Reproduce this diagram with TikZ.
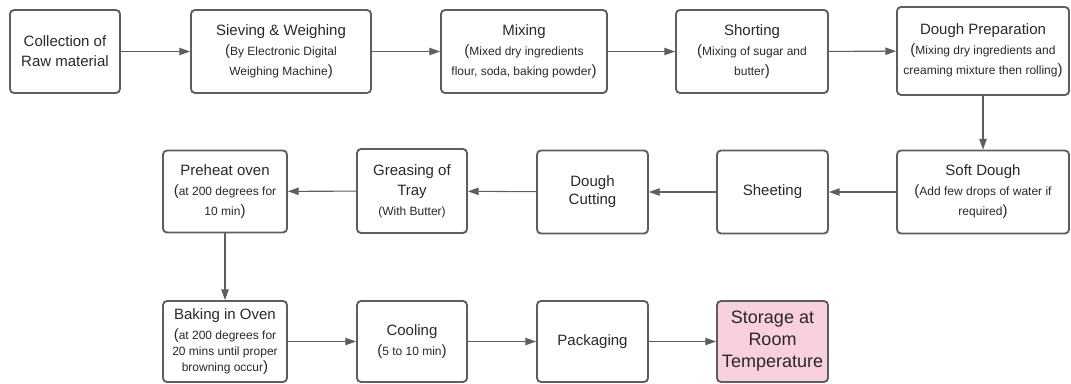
\documentclass[tikz,border=0pt]{standalone}
\usepackage{fontspec}
\setmainfont{Liberation Sans}
\usetikzlibrary{arrows.meta}
\definecolor{boxgray}{RGB}{94,94,94}
\definecolor{txtgray}{RGB}{40,40,40}
\definecolor{storepink}{RGB}{249,208,221}
\newcommand{\subtxt}[1]{{\fontsize{9}{15}\selectfont #1}}
\tikzset{
  proc/.style={draw=boxgray, line width=1.4pt, rounded corners=3pt, align=center,
    inner sep=2pt, text=txtgray, font=\fontsize{11.25}{15}\selectfont},
  flow/.style={draw=boxgray, line width=0.8pt, -{Triangle[length=8pt,width=5.5pt]}}
}
\begin{document}
\begin{tikzpicture}[x=0.75pt,y=0.75pt,yscale=-1,xscale=1]
        \useasboundingbox (0,0) rectangle (1071,383);
        %Shape: Process row 1
        \node (coll) at (65,51.5) [proc, minimum width=82.5pt, minimum height=62.25pt] {Collection of\\Raw material};
        \node (sieve) at (281,51.5) [proc, minimum width=135pt, minimum height=62.25pt] {Sieving \& Weighing\\(\subtxt{By Electronic Digital}\\\subtxt{Weighing Machine})};
        \node (mix) at (524,51.5) [proc, minimum width=124.5pt, minimum height=62.25pt] {Mixing\\(\subtxt{Mixed dry ingredients}\\\subtxt{flour, soda, baking powder})};
        \node (short) at (752,51.5) [proc, minimum width=114pt, minimum height=62.25pt] {Shorting\\(\subtxt{Mixing of sugar and}\\\subtxt{butter})};
        \node (prep) at (983,51) [proc, minimum width=129pt, minimum height=66pt] {Dough Preparation\\(\subtxt{Mixing dry ingredients and}\\\subtxt{creaming mixture then rolling})};
        %Shape: Process row 2
        \node (soft) at (983,192) [proc, minimum width=129pt, minimum height=62.25pt] {Soft Dough\\(\subtxt{Add few drops of water if}\\\subtxt{required})};
        \node (sheet) at (772.5,192) [proc, minimum width=83.25pt, minimum height=62.25pt] {Sheeting};
        \node (cut) at (592.5,192) [proc, minimum width=83.25pt, minimum height=62.25pt] {Dough\\[-1.5pt]Cutting};
        \node (grease) at (412,191) [proc, minimum width=82.5pt, minimum height=63pt] {Greasing of\\Tray\\\subtxt{(With Butter)}};
        \node (preheat) at (225,191.5) [proc, minimum width=93pt, minimum height=61.5pt] {Preheat oven\\(\subtxt{at 200 degrees for}\\\subtxt{10 min})};
        %Shape: Process row 3
        \node (bake) at (225,341.5) [proc, minimum width=93pt, minimum height=60.75pt] {Baking in Oven\\(\subtxt{at 200 degrees for}\\[-3pt]\subtxt{20 mins until proper}\\[-3pt]\subtxt{browning occur})};
        \node (cool) at (412,341.5) [proc, minimum width=82.5pt, minimum height=60.75pt] {Cooling\\(\subtxt{5 to 10 min})};
        \node (pack) at (592.5,341.5) [proc, minimum width=83.25pt, minimum height=60.75pt] {Packaging};
        \node (store) at (772.5,341.5) [proc, fill=storepink, minimum width=83.25pt, minimum height=60.75pt, font=\fontsize{13.5}{16.5}\selectfont] {Storage at\\Room\\Temperature};

        %Connectors
        \draw [flow] (coll) -- (sieve);
        \draw [flow] (sieve) -- (mix);
        \draw [flow] (mix) -- (short);
        \draw [flow] (short) -- (prep);
        \draw [flow] (prep) -- (soft);
        \draw [flow] (soft) -- (sheet);
        \draw [flow] (sheet) -- (cut);
        \draw [flow] (cut) -- (grease);
        \draw [flow] (grease) -- (preheat);
        \draw [flow] (preheat) -- (bake);
        \draw [flow] (bake) -- (cool);
        \draw [flow] (cool) -- (pack);
        \draw [flow] (pack) -- (store);
    \end{tikzpicture}
\end{document}
